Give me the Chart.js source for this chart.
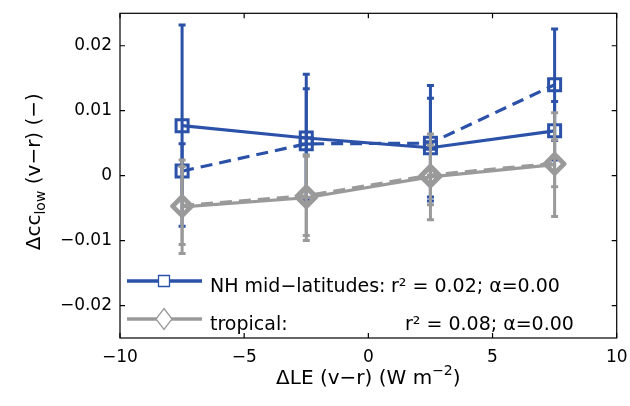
<!DOCTYPE html>
<html>
<head>
<meta charset="utf-8">
<script src="https://cdn.jsdelivr.net/npm/chart.js@4.4.0/dist/chart.umd.min.js"></script>
<style>
  html, body { margin: 0; padding: 0; background: #fff; }
</style>
</head>
<body>
<canvas id="lowCloudChart" width="630" height="406"></canvas>
<script>
// DATA
const leBins = [-7.5, -2.5, 2.5, 7.5];
const nhSolid = [0.0077, 0.0058, 0.0043, 0.0069];
const nhSolidErr = [0.0155, 0.0098, 0.0076, 0.0045];
const nhDashed = [0.0007, 0.0049, 0.0050, 0.0140];
const nhDashedErr = [0.0042, 0.0085, 0.0089, 0.0086];
const tropSolid = [-0.0048, -0.0034, -0.0002, 0.0017];
const tropSolidErr = [0.0072, 0.0066, 0.0066, 0.0080];
const tropDashed = [-0.0046, -0.0031, 0.0001, 0.0019];
const tropDashedErr = [0.0060, 0.0061, 0.0046, 0.0036];
const xTicks = [-10, -5, 0, 5, 10];
const yTicks = [-0.02, -0.01, 0, 0.01, 0.02];
const legendNames = ['NH mid\u2212latitudes:', 'tropical:'];
const legendStats = ['r\u00b2 = 0.02; \u03b1=0.00', 'r\u00b2 = 0.08; \u03b1=0.00'];

const blue = '#2b51a8';
const grey = '#9a9a9a';
const fontName = '"DejaVu Sans", sans-serif';

function pts(ys) {
  return leBins.map((x, i) => ({ x: x, y: ys[i] }));
}

function minus(s) {
  return s.replace('-', '\u2212');
}

// error bars go under each dataset's own line
const errorBarPlugin = {
  id: 'errorBars',
  beforeDatasetDraw(chart, args) {
    const ds = chart.data.datasets[args.index];
    if (!ds.errors) return;
    const ctx = chart.ctx;
    const xs = chart.scales.x;
    const ys = chart.scales.y;
    ctx.save();
    ctx.setLineDash([]);
    ctx.strokeStyle = ds.borderColor;
    ctx.lineWidth = 3;
    ds.data.forEach((p, i) => {
      const px = xs.getPixelForValue(p.x);
      const top = ys.getPixelForValue(p.y + ds.errors[i]);
      const bot = ys.getPixelForValue(p.y - ds.errors[i]);
      ctx.beginPath();
      ctx.moveTo(px, top);
      ctx.lineTo(px, bot);
      ctx.moveTo(px - 3.5, top);
      ctx.lineTo(px + 3.5, top);
      ctx.moveTo(px - 3.5, bot);
      ctx.lineTo(px + 3.5, bot);
      ctx.stroke();
    });
    ctx.restore();
  }
};

// box round the plot with inward ticks on all sides
const framePlugin = {
  id: 'frame',
  afterDraw(chart) {
    const ctx = chart.ctx;
    const a = chart.chartArea;
    const xs = chart.scales.x;
    const ys = chart.scales.y;
    ctx.save();
    ctx.strokeStyle = '#000';
    ctx.lineWidth = 1.2;
    ctx.strokeRect(a.left, a.top, a.right - a.left, a.bottom - a.top);
    ctx.beginPath();
    xTicks.forEach(v => {
      const px = xs.getPixelForValue(v);
      ctx.moveTo(px, a.bottom);
      ctx.lineTo(px, a.bottom - 5);
      ctx.moveTo(px, a.top);
      ctx.lineTo(px, a.top + 5);
    });
    yTicks.forEach(v => {
      const py = ys.getPixelForValue(v);
      ctx.moveTo(a.left, py);
      ctx.lineTo(a.left + 5, py);
      ctx.moveTo(a.right, py);
      ctx.lineTo(a.right - 5, py);
    });
    ctx.stroke();
    ctx.restore();
  }
};

// legend in the lower left corner of the plot
const legendPlugin = {
  id: 'cornerLegend',
  afterDraw(chart) {
    const ctx = chart.ctx;
    const rows = [
      { y: 281, color: blue, shape: 'square', statX: 391 },
      { y: 319, color: grey, shape: 'diamond', statX: 405 }
    ];
    ctx.save();
    rows.forEach((r, i) => {
      ctx.strokeStyle = r.color;
      ctx.lineWidth = 3.5;
      ctx.beginPath();
      ctx.moveTo(127, r.y);
      ctx.lineTo(202, r.y);
      ctx.stroke();
      ctx.lineWidth = 1.3;
      ctx.fillStyle = '#fff';
      ctx.beginPath();
      if (r.shape === 'square') {
        ctx.rect(158.5, r.y - 5.5, 11, 11);
      } else {
        ctx.moveTo(164, r.y - 10.5);
        ctx.lineTo(172, r.y);
        ctx.lineTo(164, r.y + 10.5);
        ctx.lineTo(156, r.y);
        ctx.closePath();
      }
      ctx.fill();
      ctx.stroke();

      ctx.fillStyle = '#000';
      ctx.font = '19px ' + fontName;
      ctx.textBaseline = 'alphabetic';
      ctx.textAlign = 'left';
      ctx.fillText(legendNames[i], 210, r.y + 11);
      ctx.fillText(legendStats[i], r.statX, r.y + 11);
    });
    ctx.restore();
  }
};

// axis titles with sub/superscripts
function drawParts(ctx, parts, x, y) {
  let total = 0;
  parts.forEach(p => {
    ctx.font = p.size + 'px ' + fontName;
    p.w = ctx.measureText(p.text).width;
    total += p.w;
  });
  let cx = x - total / 2;
  parts.forEach(p => {
    ctx.font = p.size + 'px ' + fontName;
    ctx.fillText(p.text, cx, y + (p.dy || 0));
    cx += p.w;
  });
}

const titlePlugin = {
  id: 'axisTitles',
  afterDraw(chart) {
    const ctx = chart.ctx;
    const a = chart.chartArea;
    ctx.save();
    ctx.fillStyle = '#000';
    ctx.textAlign = 'left';
    ctx.textBaseline = 'alphabetic';
    drawParts(ctx, [
      { text: '\u0394LE (v\u2212r) (W m', size: 20 },
      { text: '\u22122', size: 14, dy: -9 },
      { text: ')', size: 20 }
    ], (a.left + a.right) / 2, 384);

    ctx.translate(40, (a.top + a.bottom) / 2 - 4);
    ctx.rotate(-Math.PI / 2);
    drawParts(ctx, [
      { text: '\u0394cc', size: 20 },
      { text: 'low', size: 14, dy: 5 },
      { text: ' (v\u2212r) (\u2212)', size: 20 }
    ], 0, 0);
    ctx.restore();
  }
};

function series(label, ys, errs, color, dashed, shape) {
  return {
    label: label,
    data: pts(ys),
    errors: errs,
    borderColor: color,
    borderWidth: 3.2,
    borderDash: dashed ? [12, 7] : [],
    pointStyle: shape,
    pointRadius: shape === 'rect' ? 8.5 : 9.5,
    pointBorderWidth: shape === 'rect' ? 3 : 3.8,
    pointBorderColor: color,
    pointBackgroundColor: 'rgba(255,255,255,0)',
    pointHoverRadius: 0,
    tension: 0,
    fill: false
  };
}

const myLowCloudChart = new Chart(document.getElementById('lowCloudChart'), {
  type: 'line',
  data: {
    datasets: [
      series('tropical', tropSolid, tropSolidErr, grey, false, 'rectRot'),
      series('tropical (dashed)', tropDashed, tropDashedErr, grey, true, 'rectRot'),
      series('NH mid-latitudes', nhSolid, nhSolidErr, blue, false, 'rect'),
      series('NH mid-latitudes (dashed)', nhDashed, nhDashedErr, blue, true, 'rect')
    ]
  },
  options: {
    responsive: false,
    animation: false,
    events: [],
    layout: { padding: { top: 10, right: 7, left: 0, bottom: 0 } },
    plugins: {
      legend: { display: false },
      tooltip: { enabled: false }
    },
    scales: {
      x: {
        type: 'linear',
        min: -10,
        max: 10,
        grid: { display: false, drawTicks: false },
        border: { display: false },
        afterBuildTicks: s => { s.ticks = xTicks.map(v => ({ value: v })); },
        afterFit: s => {
          s.height = 68;
          s.paddingLeft = 0;
          s.paddingRight = 0;
        },
        ticks: {
          padding: 9,
          color: '#000',
          maxRotation: 0,
          autoSkip: false,
          font: { family: fontName, size: 17 },
          callback: v => minus(String(v))
        }
      },
      y: {
        type: 'linear',
        min: -0.025,
        max: 0.025,
        grid: { display: false, drawTicks: false },
        border: { display: false },
        afterBuildTicks: s => { s.ticks = yTicks.map(v => ({ value: v })); },
        afterFit: s => {
          s.width = 120;
          s.paddingTop = 0;
          s.paddingBottom = 0;
        },
        ticks: {
          padding: 8,
          color: '#000',
          autoSkip: false,
          font: { family: fontName, size: 17 },
          callback: v => v === 0 ? '0' : minus(v.toFixed(2))
        }
      }
    }
  },
  plugins: [errorBarPlugin, framePlugin, legendPlugin, titlePlugin]
});
</script>
</body>
</html>
